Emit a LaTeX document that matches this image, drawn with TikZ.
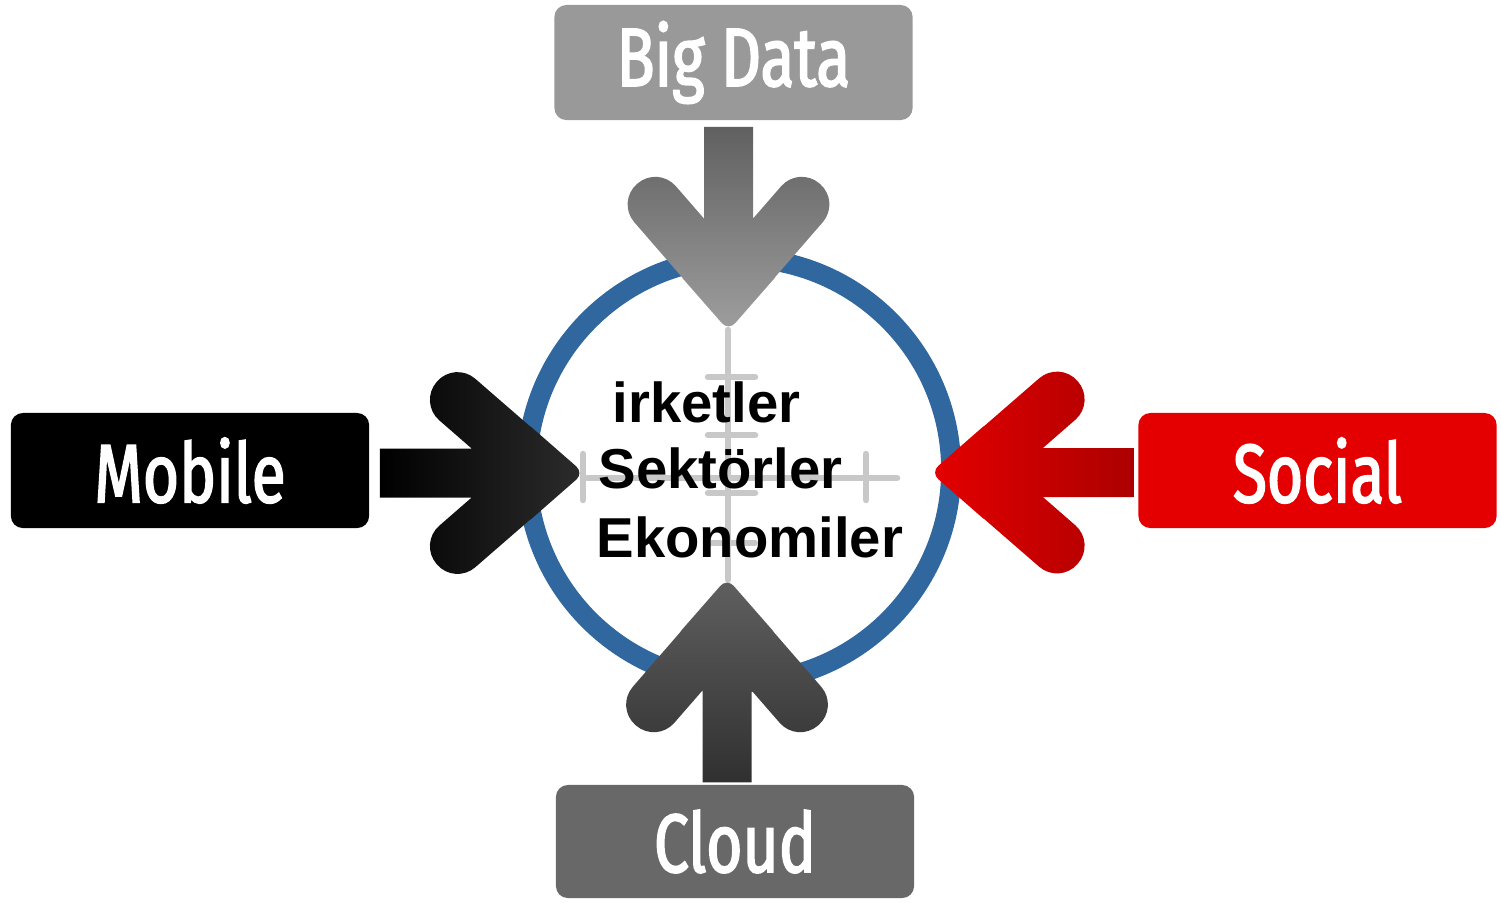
\documentclass[tikz,border=0pt]{standalone}
\usepackage{fontspec}
\setmainfont{Liberation Sans}
\newfontfamily\boxfont[FakeStretch=0.75,FakeBold=2]{Fira Sans}
\usetikzlibrary{positioning}

\definecolor{ringblue}{RGB}{47,103,158}
\definecolor{crossgray}{RGB}{200,200,200}
\definecolor{socred}{RGB}{228,0,0}
\definecolor{socdark}{RGB}{172,0,0}
\definecolor{bdbox}{RGB}{153,153,153}
\definecolor{bdtop}{RGB}{96,96,96}
\definecolor{bdtip}{RGB}{158,158,158}
\definecolor{cloudbox}{RGB}{104,104,104}
\definecolor{cloudtail}{RGB}{48,48,48}
\definecolor{cloudtip}{RGB}{96,96,96}
\definecolor{mobtip}{RGB}{44,44,44}

\tikzstyle{tagBox} = [rectangle, rounded corners=0.12cm, minimum width=3.58cm, minimum height=1.15cm, inner sep=0pt, text=white, font=\boxfont\fontsize{23.6}{24}\selectfont]
\tikzstyle{tagBoxK} = [tagBox, fill=black]
\tikzstyle{tagBoxR} = [tagBox, fill=socred]
\tikzstyle{tagBoxL} = [tagBox, fill=bdbox]
\tikzstyle{tagBoxD} = [tagBox, fill=cloudbox]
\tikzstyle{hubRing} = [circle, draw=ringblue, line width=0.2cm, minimum size=4.24cm, inner sep=0pt]
\tikzstyle{crossLine} = [draw=crossgray, line width=0.065cm, line cap=round]
\tikzstyle{hubText} = [anchor=base west, inner sep=0pt, font=\bfseries\fontsize{16}{18}\selectfont]

\tikzset{
  fatArrow/.pic={
    \shade[#1] (0,-24.5) -- (130,-24.5) -- (130,24.5) -- (0,24.5) -- cycle
      [rounded corners=0.27cm] (39,-70.5) -- (75,-112) -- (204,0) -- (75,112) -- (39,70.5) -- (120,0) -- cycle
      [rounded corners=0.1cm] (144,-52.5) -- (204,0) -- (144,52.5) -- cycle;
  }
}

\begin{document}
\begin{tikzpicture}[x=0.01cm, y=-0.01cm]
    \useasboundingbox (0,0) rectangle (1501,902);

    \node (hub) [hubRing] at (739,470) {};

    \node (bigdata) [tagBoxL] at (733.5,62.5) {Big Data};
    \node (mobile) [tagBoxK] at (190,470.5) {Mobile};
    \node (social) [tagBoxR] at (1317.5,470.5) {Social};
    \node (cloud) [tagBoxD, minimum height=1.13cm] at (735,841.5) {Cloud};

    % cross marks inside the ring
    \draw [crossLine] (728,330) -- (728,580);
    \draw [crossLine] (583,478) -- (897,478);
    \foreach \y in {377,435,493,543}
        \draw [crossLine] (708,\y) -- (755,\y);
    \foreach \x in {583,866}
        \draw [crossLine] (\x,454) -- (\x,500);

    \pic [x={(0cm,-0.01cm)}, y={(0.01cm,0cm)}] at ([xshift=-0.05cm, yshift=-0.06cm]bigdata.south) {fatArrow={top color=bdtop, bottom color=bdtip}};
    \pic [x={(0.01cm,0cm)}, y={(0cm,0.01cm)}] at ([xshift=0.1cm, yshift=-0.025cm]mobile.east) {fatArrow={left color=black, middle color=black, right color=mobtip}};
    \pic [x={(-0.01cm,0cm)}, y={(0cm,0.01cm)}] at ([xshift=-0.03cm, yshift=-0.02cm]social.west) {fatArrow={left color=socred, right color=socdark}};
    \pic [x={(0cm,0.01cm)}, y={(0.01cm,0cm)}] at ([xshift=-0.08cm, yshift=0.02cm]cloud.north) {fatArrow={top color=cloudtip, bottom color=cloudtail}};

    \node (firms) [hubText] at (612,422) {irketler};
    \node (sectors) [hubText] at (598,488) {Sektörler};
    \node (economies) [hubText] at (596,557) {Ekonomiler};

\end{tikzpicture}
\end{document}
